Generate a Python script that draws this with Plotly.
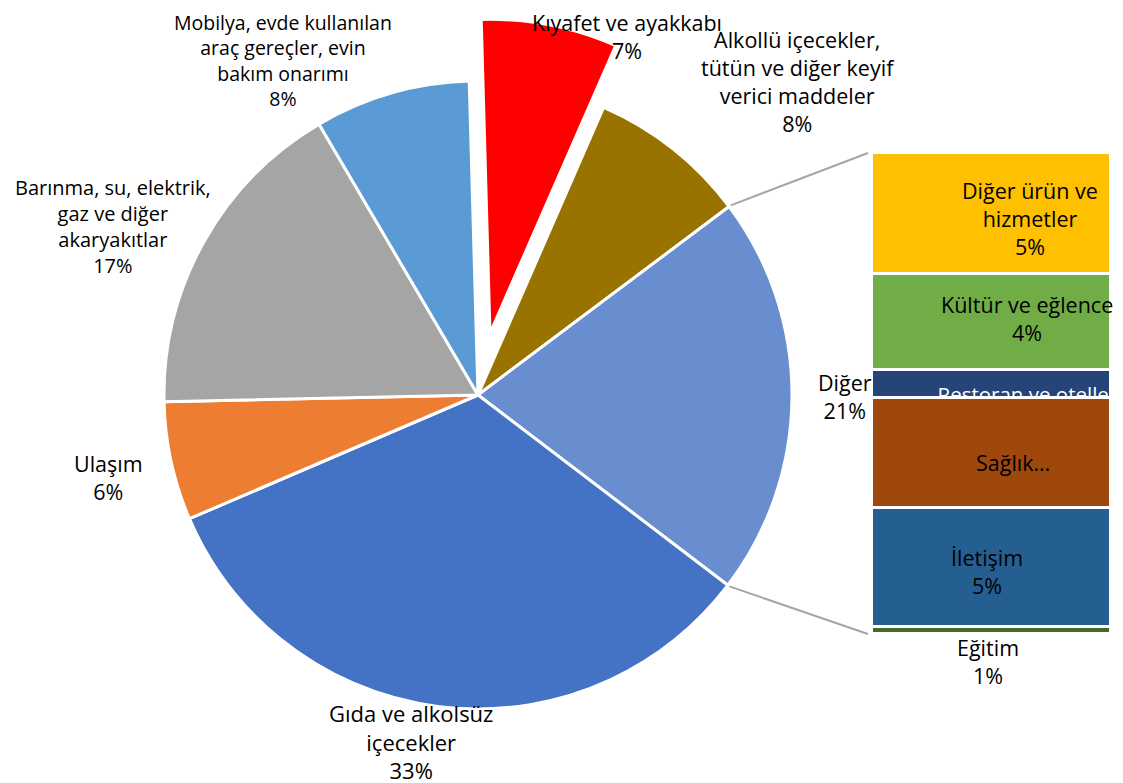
import math
import plotly.graph_objects as go

# ---------------- data ----------------
pie_labels = [
    "Kıyafet ve ayakkabı",
    "Alkollü içecekler, tütün ve diğer keyif verici maddeler",
    "Diğer",
    "Gıda ve alkolsüz içecekler",
    "Ulaşım",
    "Barınma, su, elektrik, gaz ve diğer akaryakıtlar",
    "Mobilya, evde kullanılan araç gereçler, evin bakım onarımı",
]
pie_values = [7.0, 8.2, 20.6, 33.2, 6.1, 16.9, 8.0]

sub_labels = [
    "Eğitim",
    "İletişim",
    "Sağlık",
    "Restoran ve oteller",
    "Kültür ve eğlence",
    "Diğer ürün ve hizmetler",
]
sub_values = [0.3, 5.1, 4.7, 1.2, 4.1, 5.2]
sub_pct_text = ["1%", "5%", "", "", "4%", "5%"]

# ---------------- style ----------------
W, H = 1123, 783
OFF = 8                             # page body margin offset
FONT = "Open Sans"
pie_colors = ["#FF0000", "#997300", "#698ED0", "#4472C4", "#ED7D31", "#A5A5A5", "#5B9BD5"]
pie_pull = [0.2, 0, 0, 0, 0, 0, 0]
sub_colors = ["#43682B", "#255E91", "#9E480E", "#264478", "#70AD47", "#FFC000"]

CX, CY, R = 478, 395, 314          # pie centre / radius in pixels
ROTATION = -1.6
maxpull = max(pie_pull)
half = R * (1 + maxpull)

BAR_X0, BAR_X1 = 872, 1111          # bar pixel extent
BAR_TOP, BAR_BOT = 153, 634


def px(x):
    return (x - OFF) / W


def py(y):
    return 1 - (y - OFF) / H


# wrapped label text (layout only)
pie_wrap = [
    "Kıyafet ve ayakkabı",
    "Alkollü içecekler,<br>tütün ve diğer keyif<br>verici maddeler",
    "Diğer",
    "Gıda ve alkolsüz<br>içecekler",
    "Ulaşım",
    "Barınma, su, elektrik,<br>gaz ve diğer<br>akaryakıtlar",
    "Mobilya, evde kullanılan<br>araç gereçler, evin<br>bakım onarımı",
]
pie_label_pos = [(627, 37), (798, 81.5), (845, 396), (411, 741.5), (108, 477), (113, 227), (283, 60)]
pie_label_size = [21.5, 21.5, 21.5, 22, 21.5, 20, 19.5]

sub_wrap = ["Eğitim", "İletişim", "Sağlık…", "Restoran ve oteller", "Kültür ve eğlence", "Diğer ürün ve<br>hizmetler"]
sub_label_pos = [(988, 661), (987, 571), (1013, 462), None, (1027, 318.5), (1030, 219)]
SUB_SIZE = 21.5

fig = go.Figure()

fig.add_trace(go.Pie(
    labels=pie_labels,
    values=pie_values,
    sort=False,
    direction="clockwise",
    rotation=ROTATION,
    pull=pie_pull,
    marker=dict(colors=pie_colors, line=dict(color="white", width=3)),
    textinfo="none",
    hoverinfo="label+percent",
    domain=dict(x=[px(CX - half), px(CX + half)], y=[py(CY + half), py(CY - half)]),
    showlegend=False,
))

for lab, val, col in zip(sub_labels, sub_values, sub_colors):
    fig.add_trace(go.Bar(
        x=[0], y=[val], name=lab,
        marker=dict(color=col, line=dict(color="white", width=3)),
        xaxis="x", yaxis="y", showlegend=False,
        hoverinfo="name+y",
    ))

total_sub = sum(sub_values)
bar_y0, bar_y1 = py(BAR_BOT), py(BAR_TOP)

# clipped label for the thin "Restoran ve oteller" segment
ri = 3
r_lo = sum(sub_values[:ri])
r_hi = r_lo + sub_values[ri]
dom_lo = bar_y0 + (r_lo / total_sub) * (bar_y1 - bar_y0)
dom_hi = bar_y0 + (r_hi / total_sub) * (bar_y1 - bar_y0)
fig.add_trace(go.Scatter(
    x=[0.65], y=[0.04], mode="text", text=[sub_labels[ri]],
    textfont=dict(family=FONT, size=20.5, color="white"),
    textposition="middle center", cliponaxis=True,
    xaxis="x3", yaxis="y3", showlegend=False, hoverinfo="skip",
))

annotations = []
tot = sum(pie_values)
for wrap, val, (x, y), s in zip(pie_wrap, pie_values, pie_label_pos, pie_label_size):
    annotations.append(dict(
        x=px(x), y=py(y), xref="paper", yref="paper",
        text=f"{wrap}<br>{round(val / tot * 100)}%", showarrow=False,
        xanchor="center", yanchor="middle",
        font=dict(family=FONT, size=s, color="black"),
    ))
for wrap, pct, pos in zip(sub_wrap, sub_pct_text, sub_label_pos):
    if pos is None:
        continue
    txt = wrap + (f"<br>{pct}" if pct else "")
    annotations.append(dict(
        x=px(pos[0]), y=py(pos[1]), xref="paper", yref="paper",
        text=txt, showarrow=False, xanchor="center", yanchor="middle",
        font=dict(family=FONT, size=SUB_SIZE, color="black"),
    ))

# connector lines from the "Diğer" slice edges to the bar
di = pie_labels.index("Diğer")
a_start = ROTATION + 360 * sum(pie_values[:di]) / tot
a_end = a_start + 360 * pie_values[di] / tot
shapes = []
for ang, ty in ((a_start, BAR_TOP), (a_end, BAR_BOT)):
    rad = math.radians(ang)
    x0 = CX + (R + 2) * math.sin(rad)
    y0 = CY - (R + 2) * math.cos(rad)
    shapes.append(dict(
        type="line", xref="paper", yref="paper",
        x0=px(x0), y0=py(y0), x1=px(BAR_X0 - 4), y1=py(ty),
        line=dict(color="#A5A5A5", width=2),
    ))

fig.update_layout(
    width=W, height=H,
    margin=dict(l=0, r=0, t=0, b=0),
    paper_bgcolor="white", plot_bgcolor="rgba(0,0,0,0)",
    barmode="stack", bargap=0,
    showlegend=False,
    font=dict(family=FONT),
    xaxis=dict(domain=[px(BAR_X0), px(BAR_X1)], range=[-0.5, 0.5], visible=False, fixedrange=True),
    yaxis=dict(domain=[bar_y0, bar_y1], range=[0, total_sub], visible=False, fixedrange=True),
    xaxis3=dict(domain=[px(BAR_X0), px(BAR_X1)], range=[0, 1], visible=False),
    yaxis3=dict(domain=[dom_lo, dom_hi], range=[0, 1], visible=False),
    annotations=annotations,
    shapes=shapes,
)

fig.write_html("out.html")
